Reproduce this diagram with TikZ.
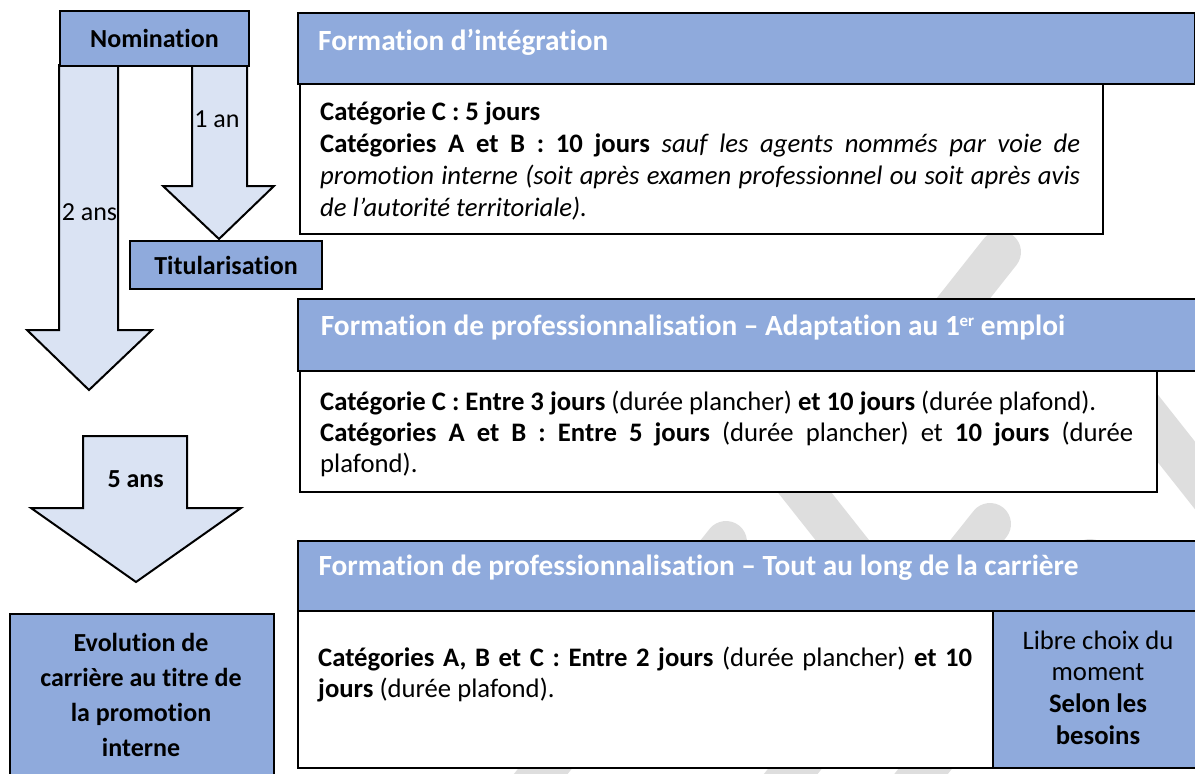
\documentclass[tikz,border=0pt]{standalone}
\usepackage{fontspec}
\setmainfont{Carlito}[Ligatures=NoCommon]
\setlength{\parindent}{0pt}
\definecolor{hdrblue}{HTML}{8FAADC}
\definecolor{arrowblue}{HTML}{DAE3F3}
\definecolor{wmgray}{HTML}{DEDEDE}
\newcommand{\supscr}[1]{\raisebox{9pt}{\fontsize{17}{17}\selectfont #1}}
\begin{document}
\begin{tikzpicture}[x=1pt,y=-1pt,
  frame/.style={draw=black,line width=2pt},
  bluebox/.style={frame,fill=hdrblue,anchor=north west,inner sep=0pt},
  whitebox/.style={frame,fill=white,anchor=north west,inner sep=0pt},
  blockarrow/.style={frame,fill=arrowblue,line join=miter},
  txt/.style={inner sep=0pt,font=\fontsize{26}{32}\selectfont},
  boldtxt/.style={inner sep=0pt,font=\fontsize{26}{32}\selectfont\bfseries},
  hdrtxt/.style={inner sep=0pt,text=white,font=\fontsize{29.3}{34}\selectfont\bfseries,anchor=base west},
  para/.style={inner sep=0pt,anchor=north west,align=justify},
  backstroke/.style={draw=wmgray,line width=42pt,line cap=round}]
\useasboundingbox (0,0) rectangle (1195,774);

% light grey strokes in the background
\begin{scope}
  \clip (0,0) rectangle (1195,774);
  \draw[backstroke] (1000,252) -- (830,467);
  \draw[backstroke] (775,455) -- (945,670);
  \draw[backstroke] (990,524) -- (770,800);
  \draw[backstroke] (726,542) -- (520,800);
  \draw[backstroke] (1090,560) -- (880,826);
  \draw[backstroke] (1080,330) -- (1250,545);
\end{scope}

% left column: block arrows
\draw[blockarrow] (59,65) -- (118,65) -- (118,330) -- (152,330) -- (89,390) -- (27,330) -- (59,330) -- cycle;
\node[txt,anchor=base] (twoYears) at (89.5,220.7) {2 ans};
\draw[blockarrow] (192,65) -- (247,65) -- (247,186) -- (274,186) -- (219,239) -- (163,186) -- (192,186) -- cycle;
\node[txt,anchor=base] (oneYear) at (217,127.7) {1 an};
\draw[blockarrow] (83,436) -- (187,436) -- (187,508) -- (241,508) -- (136,582) -- (31,508) -- (83,508) -- cycle;
\node[boldtxt,anchor=base] (fiveYears) at (135.7,487.3) {5 ans};

% left column: stages
\node[bluebox,boldtxt,minimum width=189pt,minimum height=55pt] (nom) at (59,10) {Nomination};
\node[bluebox,boldtxt,minimum width=192pt,minimum height=48pt] (tit) at (129,240) {Titularisation};
\node[bluebox,minimum width=264pt,minimum height=172pt] (evo) at (9,613) {};
\node[boldtxt,anchor=north,align=center,font=\fontsize{26}{35}\selectfont\bfseries] (evoText) at (141,627.2)
  {\strut Evolution de\\carrière au titre de\\la promotion\\interne};

% formation d'intégration
\node[bluebox,minimum width=897pt,minimum height=71pt] (intHead) at (297,12) {};
\node[whitebox,minimum width=803pt,minimum height=150pt] (intBody) at (299,83) {};
\node[hdrtxt] (intTitle) at (318,50.7) {Formation d’intégration};
\node[para,text width=760pt,font=\fontsize{26.7}{32}\selectfont] (intText) at (320,98.3)
  {\strut\textbf{Catégorie C : 5 jours}\par
   \textbf{Catégories A et B : 10 jours} \textit{sauf les agents nommés par voie de\linebreak
   promotion interne (soit après examen professionnel ou soit après avis\linebreak
   de l’autorité territoriale).}};

% adaptation au premier emploi
\node[bluebox,minimum width=900pt,minimum height=72pt] (adaHead) at (297,298) {};
\node[whitebox,minimum width=857pt,minimum height=121pt] (adaBody) at (299,370) {};
\node[hdrtxt] (adaTitle) at (320.7,335) {Formation de professionnalisation – Adaptation au 1\supscr{er} emploi};
\node[para,text width=813pt,font=\fontsize{26.7}{31}\selectfont] (adaText) at (320,389)
  {\strut\textbf{Catégorie C : Entre 3 jours} (durée plancher) \textbf{et 10 jours} (durée plafond).\par
   \textbf{Catégories A et B : Entre 5 jours} (durée plancher) et \textbf{10 jours} (durée\linebreak
   plafond).};

% tout au long de la carrière
\node[bluebox,minimum width=900pt,minimum height=70pt] (carHead) at (297,540) {};
\node[whitebox,minimum width=695pt,minimum height=157pt] (carBody) at (297,610) {};
\node[bluebox,minimum width=206pt,minimum height=157pt] (choix) at (992,610) {};
\node[hdrtxt] (carTitle) at (318.3,575) {Formation de professionnalisation – Tout au long de la carrière};
\node[para,text width=654pt,font=\fontsize{26.7}{31}\selectfont] (carText) at (318,644.3)
  {\strut\textbf{Catégories A, B et C : Entre 2 jours} (durée plancher) \textbf{et 10\linebreak
   jours} (durée plafond).};
\node[txt,anchor=north,align=center,font=\fontsize{26.7}{31.7}\selectfont] (choixText) at (1098,626.8)
  {\strut Libre choix du\\moment\\\textbf{Selon les}\\\textbf{besoins}};
\end{tikzpicture}
\end{document}
